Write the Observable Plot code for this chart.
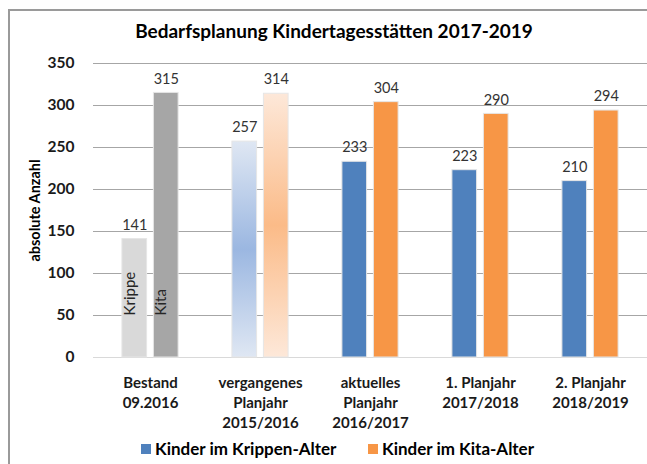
<!DOCTYPE html>
<html><head><meta charset="utf-8">
<script src="https://cdn.jsdelivr.net/npm/d3@7"></script>
<script src="https://cdn.jsdelivr.net/npm/@observablehq/plot@0.6"></script>
<style>
html,body{margin:0;padding:0;background:#fff;}
body{width:647px;height:464px;overflow:hidden;position:relative;font-family:Lato,"Open Sans",sans-serif;}
#frame{position:absolute;left:8px;top:9px;width:700px;height:600px;border-left:2px solid #9a9a9a;border-top:2px solid #9a9a9a;z-index:2;pointer-events:none;}
#crop{position:absolute;left:28px;top:-36px;font:bold 34px Lato;line-height:34px;color:#000;white-space:pre;}
#title{position:absolute;left:10px;width:648px;top:20px;text-align:center;font:bold 19px Lato;line-height:22px;color:#000;}
#chart{position:absolute;left:0;top:40px;}
#legend{position:absolute;top:439px;left:0;width:647px;height:20px;font:bold 17px Lato;color:#000;}
.sw{position:absolute;width:10px;height:10px;top:5px;}
.lt{position:absolute;top:0;line-height:20px;white-space:nowrap;}
</style>
</head>
<body>
<div id="crop">ng p</div>
<div id="title"></div>
<div id="chart"></div>
<div id="legend"></div>
<div id="frame"></div>
<script>
const title = "Bedarfsplanung Kindertagesstätten 2017-2019";
const categories = [
  "Bestand\n09.2016",
  "vergangenes\nPlanjahr\n2015/2016",
  "aktuelles\nPlanjahr\n2016/2017",
  "1. Planjahr\n2017/2018",
  "2. Planjahr\n2018/2019"
];
const krippe = [141, 257, 233, 223, 210];
const kita = [315, 314, 304, 290, 294];
const seriesNames = ["Kinder im Krippen-Alter", "Kinder im Kita-Alter"];
const bestandLabels = ["Krippe", "Kita"];
const yTicks = [0, 50, 100, 150, 200, 250, 300, 350];
const yLabel = "absolute Anzahl";

// styles
const blue = "#4f81bd", orange = "#f79646";
const fillK = i => i === 0 ? "#d9d9d9" : i === 1 ? "url(#gBlue)" : blue;
const fillT = i => i === 0 ? "#a6a6a6" : i === 1 ? "url(#gOrange)" : orange;

document.getElementById("title").textContent = title;

const W = 647, H = 390, ML = 93, MR = 0, MT = 23, MB = 73;
const half = (W - ML - MR) / categories.length / 2;
const barW = 25.5, gap = 3;
const inner = half - gap - barW;
const off = gap + barW / 2;

const svg = Plot.plot({
  width: W, height: H,
  marginLeft: ML, marginRight: MR, marginTop: MT, marginBottom: MB,
  style: {background: "transparent", fontFamily: "Lato, 'Open Sans', sans-serif", overflow: "visible"},
  x: {domain: categories, padding: 0},
  y: {domain: [0, 350]},
  color: {type: "identity"},
  marks: [
    Plot.gridY({ticks: yTicks.slice(1), stroke: "#a6a6a6", strokeOpacity: 1, strokeWidth: 1}),
    Plot.ruleY([yTicks[0]], {stroke: "#d9d9d9", strokeWidth: 1}),
    Plot.barY(categories, {x: d => d, y: (d, i) => krippe[i], fill: (d, i) => fillK(i),
      stroke: "#e6e6e6", strokeWidth: 1, insetLeft: inner, insetRight: half + gap}),
    Plot.barY(categories, {x: d => d, y: (d, i) => kita[i], fill: (d, i) => fillT(i),
      stroke: "#e6e6e6", strokeWidth: 1, insetLeft: half + gap, insetRight: inner}),
    Plot.text(categories, {x: d => d, y: (d, i) => krippe[i], text: (d, i) => String(krippe[i]),
      dy: -14, dx: -off, fill: "#333333", fontSize: 14.5}),
    Plot.text(categories, {x: d => d, y: (d, i) => kita[i], text: (d, i) => String(kita[i]),
      dy: -14, dx: off, fill: "#333333", fontSize: 14.5}),
    Plot.text([categories[0]], {x: d => d, frameAnchor: "bottom", dy: -42, dx: -off,
      text: () => bestandLabels[0], rotate: -90, textAnchor: "start", fontSize: 15, fill: "#262626"}),
    Plot.text([categories[0]], {x: d => d, frameAnchor: "bottom", dy: -42, dx: off,
      text: () => bestandLabels[1], rotate: -90, textAnchor: "start", fontSize: 15, fill: "#262626"}),
    Plot.axisY({ticks: yTicks, tickSize: 0, tickPadding: 19, fontSize: 15.5, fontWeight: "bold", label: null, color: "#1a1a1a"}),
    Plot.axisX({tickSize: 0, tickPadding: 16, fontSize: 15, fontWeight: "bold", lineHeight: 1.33, label: null, color: "#1a1a1a"}),
    Plot.text([yLabel], {frameAnchor: "left", textAnchor: "middle", dx: -58, rotate: -90, fontSize: 14.5, fontWeight: "bold", fill: "#000"})
  ]
});

const defs = d3.select(svg).insert("defs", ":first-child");
function grad(id, edge, mid) {
  const g = defs.append("linearGradient").attr("id", id)
    .attr("x1", 0).attr("y1", 0).attr("x2", 0).attr("y2", 1);
  g.append("stop").attr("offset", 0).attr("stop-color", edge);
  g.append("stop").attr("offset", 0.5).attr("stop-color", mid);
  g.append("stop").attr("offset", 1).attr("stop-color", edge);
}
grad("gBlue", "#dfe7f3", "#9bb7e1");
grad("gOrange", "#fde8d9", "#fbbb88");

document.getElementById("chart").appendChild(svg);

const legend = document.getElementById("legend");
const legendColors = [blue, orange];
const swX = [141, 368];
seriesNames.forEach((name, i) => {
  const sw = document.createElement("div");
  sw.className = "sw"; sw.style.left = swX[i] + "px"; sw.style.background = legendColors[i];
  const t = document.createElement("div");
  t.className = "lt"; t.style.left = (swX[i] + 14) + "px"; t.textContent = name;
  legend.appendChild(sw); legend.appendChild(t);
});
</script>
</body></html>
